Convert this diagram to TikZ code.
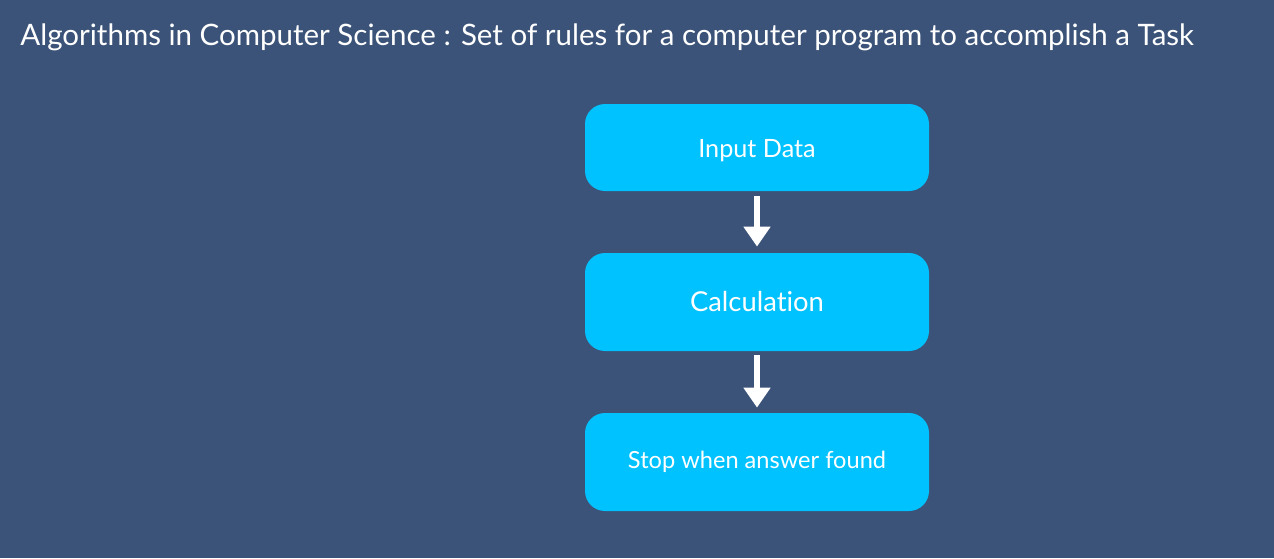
\documentclass[tikz,border=0pt]{standalone}
\usepackage{fontspec}
\setmainfont{Lato}[Ligatures={NoCommon,NoRare}]
\usetikzlibrary{arrows.meta}
\definecolor{bg}{RGB}{59,83,120}
\definecolor{boxc}{RGB}{0,194,255}
\tikzset{
  x=0.5pt, y=-0.5pt,
  stepbox/.style={fill=boxc, draw=none, rounded corners=10pt, minimum width=172pt, text=white, inner sep=0pt},
  flowarrow/.style={draw=white, line width=2.6pt, -{Triangle[width=13pt,length=10pt]}, shorten >=0pt}
}
\begin{document}
\begin{tikzpicture}
\fill[bg] (0,0) rectangle (1274,558);
\useasboundingbox (0,0) rectangle (1274,558);
\node[anchor=west, text=white, font=\fontsize{14.75}{16}\selectfont, inner sep=0pt] (title) at (20,37) {Algorithms in Computer Science : Set of rules for a computer program to accomplish a Task};
\node[stepbox, minimum height=43.5pt, font=\fontsize{12.6}{14}\selectfont, text depth=0pt] (input) at (757,147.5) {\raisebox{-0.5pt}{Input Data}};
\node[stepbox, minimum height=49pt, font=\fontsize{13.7}{15}\selectfont] (calc) at (757,302) {\raisebox{-0.5pt}{Calculation}};
\node[stepbox, minimum height=49pt, font=\fontsize{11.8}{13}\selectfont] (stop) at (757,462) {\raisebox{-0.5pt}{Stop when answer found}};
\draw[flowarrow] ([yshift=-2.5pt]input.south) -- ([yshift=3pt]calc.north);
\draw[flowarrow] ([yshift=-2pt]calc.south) -- ([yshift=2.5pt]stop.north);
\end{tikzpicture}
\end{document}
